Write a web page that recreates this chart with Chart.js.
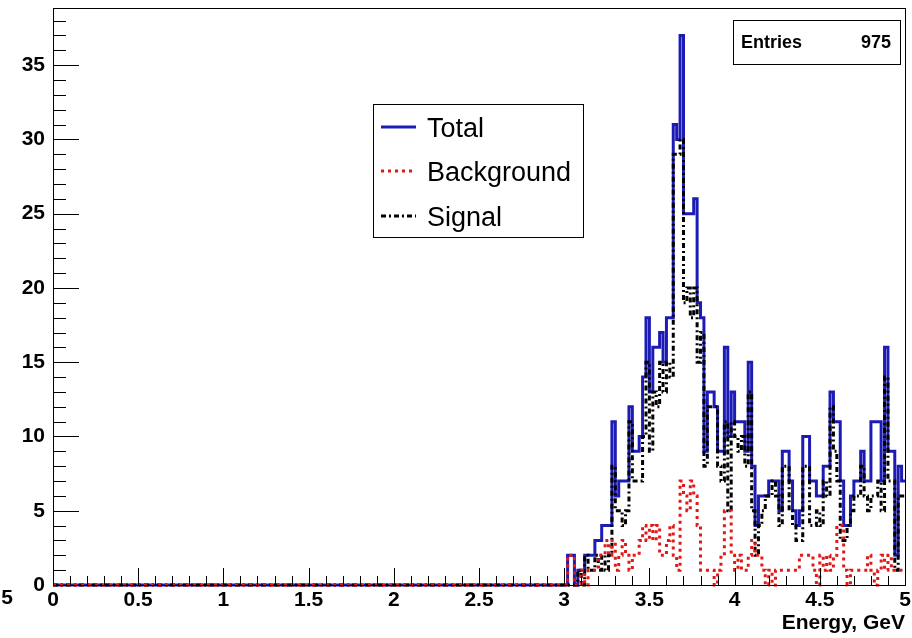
<!DOCTYPE html>
<html>
<head>
<meta charset="utf-8">
<title>Energy</title>
<script src="https://cdn.jsdelivr.net/npm/chart.js@4.4.0/dist/chart.umd.min.js"></script>
<style>
  html, body { margin: 0; padding: 0; background: #fff; }
  #wrap { width: 912px; height: 638px; }
</style>
</head>
<body>
<div id="wrap"><canvas id="energy" width="912" height="638"></canvas></div>
<script>
// histogram: 0..5 GeV, bins of 0.02, everything below 3 GeV is empty
var xMin = 0, xMax = 5, yMax = 38.85;
var binStart = 3.0;
var binWidth = 0.02;
var entries = 975;
var xTicks = [0, 0.5, 1, 1.5, 2, 2.5, 3, 3.5, 4, 4.5, 5];
var yTicks = [0, 5, 10, 15, 20, 25, 30, 35];

var total = [
    0, 2, 2, 0, 1, 1, 2, 2, 2, 3,
    3, 4, 4, 4, 11, 6, 7, 7, 7, 12,
    9, 9, 10, 14, 18, 13, 16, 16, 17, 15,
    18, 18, 31, 30, 37, 25, 25, 25, 26, 19,
    18, 9, 13, 13, 12, 9, 9, 16, 10, 13,
    11, 11, 11, 9, 15, 8, 4, 6, 6, 6,
    7, 7, 7, 5, 9, 9, 7, 5, 4, 5,
    10, 10, 7, 7, 6, 6, 8, 8, 13, 11,
    11, 7, 4, 4, 6, 7, 7, 9, 7, 7,
    11, 11, 11, 7, 16, 9, 9, 2, 8, 7
];
var background = [
    0, 2, 2, 0, 0, 1, 0, 1, 1, 1,
    2, 2, 3, 2, 3, 1, 2, 3, 2, 1,
    2, 2, 3, 4, 3, 4, 3, 4, 2, 2,
    3, 4, 2, 1, 7, 6, 5, 7, 6, 4,
    1, 1, 1, 1, 0, 1, 2, 5, 5, 2,
    1, 2, 1, 1, 2, 3, 2, 2, 1, 0,
    1, 0, 1, 1, 1, 1, 1, 1, 1, 2,
    2, 2, 2, 1, 0, 2, 1, 2, 1, 2,
    4, 4, 1, 0, 1, 1, 1, 1, 1, 2,
    1, 0, 1, 2, 1, 2, 1, 1, 1, 1
];
var signal = [
    0, 0, 0, 0, 1, 0, 2, 1, 1, 2,
    1, 2, 1, 2, 8, 5, 5, 4, 5, 11,
    7, 7, 7, 10, 15, 9, 13, 12, 15, 13,
    15, 14, 29, 29, 30, 19, 20, 18, 20, 15,
    17, 8, 12, 12, 12, 8, 7, 11, 5, 11,
    10, 9, 10, 8, 13, 5, 2, 4, 5, 6,
    6, 7, 6, 4, 8, 8, 5, 4, 3, 3,
    8, 8, 4, 4, 5, 4, 7, 6, 12, 9,
    7, 3, 3, 4, 5, 6, 6, 8, 6, 5,
    6, 6, 7, 5, 14, 7, 7, 1, 6, 6
];

var axisFont = { family: '"Liberation Sans", Arial, sans-serif', size: 21, weight: 'bold' };

// step outline like ROOT's HIST option
function histPoints(values) {
    var pts = [{ x: xMin, y: 0 }, { x: binStart, y: 0 }];
    values.forEach(function (v, i) {
        var lo = binStart + i * binWidth;
        pts.push({ x: lo, y: v });
        pts.push({ x: lo + binWidth, y: v });
    });
    return pts;
}

var rootFrame = {
    id: 'rootFrame',
    afterDraw: function (chart) {
        var ctx = chart.ctx;
        var a = chart.chartArea;
        var xs = chart.scales.x, ys = chart.scales.y;
        var i, p, len;

        ctx.save();
        ctx.strokeStyle = '#000';
        ctx.lineWidth = 1;
        ctx.strokeRect(Math.round(a.left) + 0.5, Math.round(a.top) + 0.5,
            Math.round(a.right - a.left), Math.round(a.bottom - a.top));

        // ticks point inwards
        ctx.beginPath();
        for (i = 0; i <= 50; i++) {
            p = Math.round(xs.getPixelForValue(i / 10)) + 0.5;
            len = (i % 5 === 0) ? 17 : 9;
            ctx.moveTo(p, a.bottom);
            ctx.lineTo(p, a.bottom - len);
        }
        for (i = 0; i <= 38; i++) {
            p = Math.round(ys.getPixelForValue(i)) + 0.5;
            len = (i % 5 === 0) ? 26 : 13;
            ctx.moveTo(a.left, p);
            ctx.lineTo(a.left + len, p);
        }
        ctx.stroke();

        // cut-off label at the very left
        ctx.fillStyle = '#000';
        ctx.font = 'bold 21px "Liberation Sans", Arial, sans-serif';
        ctx.textAlign = 'center';
        ctx.textBaseline = 'middle';
        ctx.fillText('5', 7, 598);

        // legend box
        var lx = 373, ly = 104, lw = 210, lh = 133;
        ctx.fillStyle = '#fff';
        ctx.fillRect(lx, ly, lw, lh);
        ctx.strokeRect(lx + 0.5, ly + 0.5, lw, lh);
        var rows = [
            { ds: chart.data.datasets[2], y: 127 },
            { ds: chart.data.datasets[0], y: 171 },
            { ds: chart.data.datasets[1], y: 216 }
        ];
        ctx.font = '27px "Liberation Sans", Arial, sans-serif';
        ctx.textAlign = 'left';
        ctx.textBaseline = 'alphabetic';
        rows.forEach(function (r) {
            ctx.save();
            ctx.strokeStyle = r.ds.borderColor;
            ctx.lineWidth = r.ds.borderWidth;
            ctx.setLineDash(r.ds.borderDash || []);
            ctx.beginPath();
            ctx.moveTo(381, r.y);
            ctx.lineTo(416, r.y);
            ctx.stroke();
            ctx.restore();
            ctx.fillStyle = '#000';
            ctx.fillText(r.ds.label, 427, r.y + 10);
        });

        // stats box
        var sx = 733, sy = 20, sw = 167, sh = 44;
        ctx.fillStyle = '#fff';
        ctx.fillRect(sx, sy, sw, sh);
        ctx.strokeRect(sx + 0.5, sy + 0.5, sw, sh);
        ctx.fillStyle = '#000';
        ctx.font = 'bold 18px "Liberation Sans", Arial, sans-serif';
        ctx.textAlign = 'left';
        ctx.fillText('Entries', 741, 48);
        ctx.textAlign = 'right';
        ctx.fillText(String(entries), 891, 48);
        ctx.restore();
    }
};

function noEdgePadding(s) {
    s.paddingTop = 0;
    s.paddingBottom = 0;
    s.paddingLeft = 0;
    s.paddingRight = 0;
}

var chart = new Chart(document.getElementById('energy'), {
    type: 'line',
    data: {
        datasets: [
            {
                label: 'Background',
                data: histPoints(background),
                borderColor: '#e01818',
                borderWidth: 3,
                borderDash: [3, 4],
                order: 1
            },
            {
                label: 'Signal',
                data: histPoints(signal),
                borderColor: '#000000',
                borderWidth: 3,
                borderDash: [5, 3, 2, 3],
                order: 2
            },
            {
                label: 'Total',
                data: histPoints(total),
                borderColor: '#1c1cb4',
                borderWidth: 3,
                order: 3
            }
        ]
    },
    options: {
        responsive: false,
        animation: false,
        devicePixelRatio: 1,
        layout: { padding: { top: 8, right: 7, left: 0, bottom: 0 } },
        elements: {
            point: { radius: 0 },
            line: { tension: 0, fill: false, borderJoinStyle: 'miter', borderCapStyle: 'butt' }
        },
        datasets: { line: { clip: 4 } },
        plugins: {
            legend: { display: false },
            tooltip: { enabled: false }
        },
        scales: {
            x: {
                type: 'linear',
                min: xMin,
                max: xMax,
                afterBuildTicks: function (s) { s.ticks = xTicks.map(function (v) { return { value: v }; }); },
                afterFit: function (s) { s.height = 53; noEdgePadding(s); },
                grid: { display: false, drawTicks: false },
                border: { display: false },
                ticks: {
                    color: '#000',
                    font: axisFont,
                    padding: 3,
                    maxRotation: 0,
                    autoSkip: false,
                    callback: function (v) { return String(Math.round(v * 10) / 10); }
                },
                title: {
                    display: true,
                    text: 'Energy, GeV',
                    align: 'end',
                    color: '#000',
                    font: axisFont,
                    padding: { top: 0, bottom: 2 }
                }
            },
            y: {
                type: 'linear',
                min: 0,
                max: yMax,
                afterBuildTicks: function (s) { s.ticks = yTicks.map(function (v) { return { value: v }; }); },
                afterFit: function (s) { s.width = 53; noEdgePadding(s); },
                grid: { display: false, drawTicks: false },
                border: { display: false },
                ticks: {
                    color: '#000',
                    font: axisFont,
                    padding: 8,
                    autoSkip: false
                }
            }
        }
    },
    plugins: [rootFrame]
});
</script>
</body>
</html>
